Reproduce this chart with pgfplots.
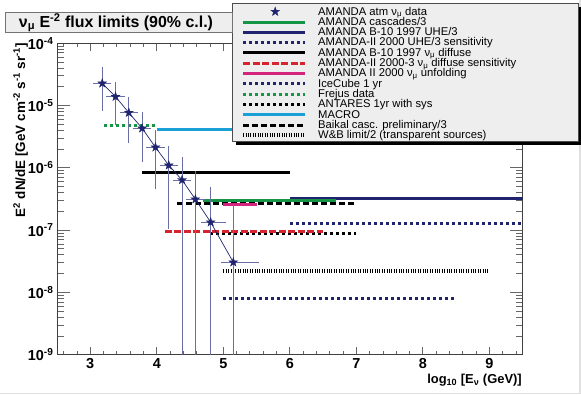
\documentclass[border=0pt]{standalone}
\usepackage{fontspec}
\setmainfont{Liberation Sans}
\usepackage{pgfplots}
\usepackage{pgfplotstable}
\pgfplotsset{compat=1.18}
\usetikzlibrary{shadows}

\definecolor{navy}{RGB}{32,36,110}
\definecolor{cgreen}{RGB}{20,150,70}
\definecolor{cred}{RGB}{215,35,45}
\definecolor{cmag}{RGB}{210,35,125}
\definecolor{ccyan}{RGB}{25,160,215}
\definecolor{errc}{RGB}{105,110,165}
\definecolor{lgray}{RGB}{238,238,238}

\pgfdeclareplotmark{fstar}{%
  \pgfpathmoveto{\pgfpointpolar{90}{\pgfplotmarksize}}%
  \pgfpathlineto{\pgfpointpolar{126}{0.4\pgfplotmarksize}}%
  \pgfpathlineto{\pgfpointpolar{162}{\pgfplotmarksize}}%
  \pgfpathlineto{\pgfpointpolar{198}{0.4\pgfplotmarksize}}%
  \pgfpathlineto{\pgfpointpolar{234}{\pgfplotmarksize}}%
  \pgfpathlineto{\pgfpointpolar{270}{0.4\pgfplotmarksize}}%
  \pgfpathlineto{\pgfpointpolar{306}{\pgfplotmarksize}}%
  \pgfpathlineto{\pgfpointpolar{342}{0.4\pgfplotmarksize}}%
  \pgfpathlineto{\pgfpointpolar{18}{\pgfplotmarksize}}%
  \pgfpathlineto{\pgfpointpolar{54}{0.4\pgfplotmarksize}}%
  \pgfpathclose
  \pgfusepathqfillstroke}

\tikzset{
  solidl/.style={line width=3bp},
  dotsq/.style={line width=3bp, dash pattern=on 3bp off 3bp},
  dashr/.style={line width=3bp, dash pattern=on 7bp off 2.5bp},
  dashk/.style={line width=3bp, dash pattern=on 6bp off 3bp},
  wbl/.style={line width=4bp, dash pattern=on 0.8bp off 1.6bp},
}
\pgfplotsset{
  linelegend/.style={legend image code/.code={\path[use as bounding box, draw=none, fill=none] (0bp,0bp) rectangle (62bp,7bp); \draw[##1] (0bp,3.3bp) -- (62bp,3.3bp);}},
  starlegend/.style={legend image code/.code={\path[use as bounding box, draw=none, fill=none] (0bp,0bp) rectangle (62bp,7bp); \draw[##1] plot coordinates {(32bp,3.3bp)};}},
}

\pgfplotstableread{
x y xem xep eyp eym
3.18 2.28e-5 0.1 0.1 1.45e-5 1.375e-5
3.38 1.39e-5 0.1 0.1 8.1e-6 8.58e-6
3.58 7.69e-6 0.1 0.1 4.61e-6 4.96e-6
3.78 4.32e-6 0.1 0.1 2.93e-6 2.98e-6
3.98 2.14e-6 0.1 0.1 1.59e-6 1.641e-6
4.18 1.10e-6 0.1 0.1 9.6e-7 9.86e-7
4.38 6.39e-7 0.1 0.1 7.31e-7 6.389e-7
4.58 3.13e-7 0.1 0.1 5.06e-7 3.129e-7
4.81 1.34e-7 0.11 0.19 3.2e-7 1.339e-7
5.15 3.05e-8 0.15 0.35 2.075e-7 3.04e-8
}\stars

\begin{document}
\begin{tikzpicture}
\path[use as bounding box] (0,0) rectangle (581bp,395bp);
\draw[black!12, line width=1.2bp] (0,1.6bp) -- (580bp,1.6bp) -- (580bp,395bp);

% axis A: y ticks only
\begin{axis}[ymode=log,
  at={(57bp,40.3bp)}, anchor=south west, scale only axis,
  width=465.7bp, height=311.4bp,
  xmin=2.5, xmax=9.5, ymin=1e-9, ymax=1e-4,
  hide x axis,
  ytick={1e-9,1e-8,1e-7,1e-6,1e-5,1e-4},
  yticklabels={10\textsuperscript{-9},10\textsuperscript{-8},10\textsuperscript{-7},10\textsuperscript{-6},10\textsuperscript{-5},10\textsuperscript{-4}},
  yticklabel style={font=\bfseries\fontsize{14.5}{14.5}\selectfont},
  major tick length=13bp, minor tick length=7bp,
  tick style={draw=black!60, line width=0.9bp},
  axis line style={draw=black!75, line width=0.9bp},
]
\end{axis}

% axis B: frame, x ticks, data
\begin{axis}[ymode=log,
  at={(57bp,40.3bp)}, anchor=south west, scale only axis,
  width=465.7bp, height=311.4bp,
  xmin=2.5, xmax=9.5, ymin=1e-9, ymax=1e-4,
  xtick={3,4,5,6,7,8,9}, xticklabels={3,4,5,6,7,8,9},
  minor xtick={2.6,2.8,3.2,3.4,3.6,3.8,4.2,4.4,4.6,4.8,5.2,5.4,5.6,5.8,6.2,6.4,6.6,6.8,7.2,7.4,7.6,7.8,8.2,8.4,8.6,8.8,9.2,9.4},
  ytick=\empty, yminorticks=false,
  major tick length=8bp, minor tick length=4bp,
  tick style={draw=black!60, line width=0.9bp},
  axis line style={draw=black!75, line width=0.9bp},
  xticklabel style={font=\bfseries\fontsize{14.5}{14.5}\selectfont},
]
% limit lines
\addplot[cgreen, dotsq] coordinates {(3.2,4.71e-6) (4.0,4.71e-6)};
\addplot[ccyan, solidl] coordinates {(4.0,4.06e-6) (6.0,4.06e-6)};
\addplot[black, solidl] coordinates {(3.78,8.4e-7) (6.0,8.4e-7)};
\addplot[navy, solidl] coordinates {(6.0,3.25e-7) (9.5,3.25e-7)};
\addplot[navy, dotsq] coordinates {(6.0,1.26e-7) (9.5,1.26e-7)};
\addplot[black, dashk] coordinates {(4.3,2.70e-7) (7.0,2.70e-7)};
\addplot[black, dotsq] coordinates {(4.8,8.9e-8) (7.0,8.9e-8)};
\addplot[cred, dashr] coordinates {(4.12,9.5e-8) (6.5,9.5e-8)};
\addplot[cgreen, solidl] coordinates {(4.7,2.94e-7) (6.7,2.94e-7)};
\addplot[cmag, solidl] coordinates {(5.0,2.6e-7) (5.5,2.6e-7)};
\addplot[black, wbl] coordinates {(5.0,2.24e-8) (9.0,2.24e-8)};
\addplot[navy, dotsq] coordinates {(5.0,8.07e-9) (8.5,8.07e-9)};

% data
\addplot[navy, line width=0.7bp, mark=fstar, mark size=4.6bp,
  mark options={fill=navy, draw=navy, line width=0.4bp, solid},
  error bars/.cd, x dir=both, x explicit, y dir=both, y explicit,
  error bar style={errc, line width=0.8bp},
  error mark options={errc, mark size=2.5bp, line width=0.8bp}]
  table[x=x, y=y, x error plus=xep, x error minus=xem, y error plus=eyp, y error minus=eym] {\stars};
\end{axis}

% legend box
\path[fill=lgray, draw=black!70, line width=0.6bp,
  general shadow={fill=black, shadow xshift=4bp, shadow yshift=-4bp}]
  (232bp,254bp) rectangle (578bp,392bp);

% axis C: legend only
\begin{axis}[ymode=log,
  at={(57bp,40.3bp)}, anchor=south west, scale only axis,
  width=465.7bp, height=311.4bp,
  xmin=2.5, xmax=9.5, ymin=1e-9, ymax=1e-4,
  hide axis,
  legend cell align=left,
  linelegend,
  legend style={at={(axis description cs:0.3758,1.1294)}, anchor=north west,
    fill=none, draw=none,
    font=\fontsize{11.3}{11.3}\selectfont,
    inner xsep=11bp, inner ysep=2bp, row sep=0pt, column sep=13bp,
    cells={anchor=base west},
    nodes={inner sep=0pt, text height=9.8bp, text depth=0.5bp}},
]
\addlegendimage{navy, mark=fstar, mark size=4.6bp, mark options={fill=navy, solid}, starlegend}
\addlegendentry{AMANDA atm ν\textsubscript{μ} data}
\addlegendimage{cgreen, solidl}
\addlegendentry{AMANDA cascades/3}
\addlegendimage{navy, solidl}
\addlegendentry{AMANDA B-10 1997 UHE/3}
\addlegendimage{navy, dotsq}
\addlegendentry{AMANDA-II 2000 UHE/3 sensitivity}
\addlegendimage{black, solidl}
\addlegendentry{AMANDA B-10 1997 ν\textsubscript{μ} diffuse}
\addlegendimage{cred, dashr}
\addlegendentry{AMANDA-II 2000-3 ν\textsubscript{μ} diffuse sensitivity}
\addlegendimage{cmag, solidl}
\addlegendentry{AMANDA II 2000 ν\textsubscript{μ} unfolding}
\addlegendimage{navy, dotsq}
\addlegendentry{IceCube 1 yr}
\addlegendimage{cgreen, dotsq}
\addlegendentry{Frejus data}
\addlegendimage{black, dotsq}
\addlegendentry{ANTARES 1yr with sys}
\addlegendimage{ccyan, solidl}
\addlegendentry{MACRO}
\addlegendimage{black, dashk}
\addlegendentry{Baikal casc. preliminary/3}
\addlegendimage{black, wbl}
\addlegendentry{W\&B limit/2 (transparent sources)}
\end{axis}

% title
\node[draw=black!55, fill=lgray, line width=0.6bp, minimum width=227bp, minimum height=20bp, inner sep=0pt, anchor=south west] at (5bp,362bp) {};
\node[anchor=base, font=\bfseries\fontsize{16}{16}\selectfont, inner sep=0pt] at (116bp,367.7bp) {ν\textsubscript{μ} E\textsuperscript{-2} flux limits (90\% c.l.)};

% axis labels
\node[rotate=90, anchor=base east, font=\bfseries\fontsize{13.5}{13.5}\selectfont, inner sep=0pt] at (25bp,352bp) {E\textsuperscript{2} dN/dE [GeV cm\textsuperscript{-2} s\textsuperscript{-1} sr\textsuperscript{-1}]};
\node[anchor=base east, font=\bfseries\fontsize{13}{13}\selectfont, inner sep=0pt] at (522bp,11.7bp) {log\textsubscript{10} [E\textsubscript{ν} (GeV)]};
\end{tikzpicture}
\end{document}
